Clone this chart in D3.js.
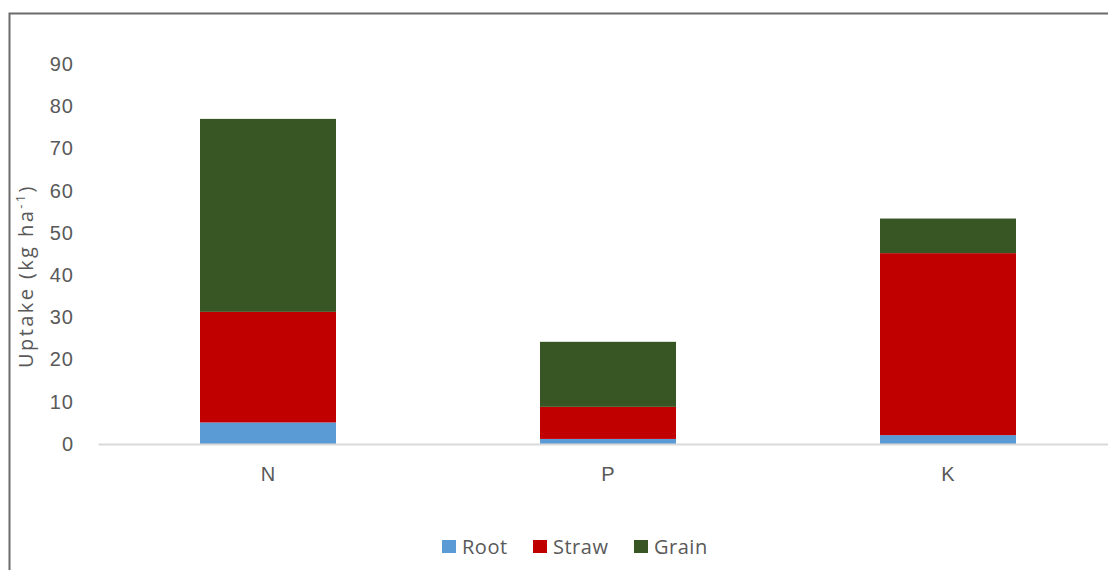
<!DOCTYPE html>
<html>
<head>
<meta charset="utf-8">
<script src="https://cdn.jsdelivr.net/npm/d3@7"></script>
<style>
  body { margin: 0; background: #fff; }
  svg { display: block; font-family: "Open Sans", "Noto Sans", sans-serif; }
</style>
</head>
<body>
<script>
// chart data
const nutrients = ["N", "P", "K"];
const parts = ["Root", "Straw", "Grain"];
const root = [5.1, 1.2, 2.1];
const straw = [26.2, 7.6, 43.1];
const grain = [45.7, 15.4, 8.2];
const yTicks = [0, 10, 20, 30, 40, 50, 60, 70, 80, 90];
const colors = ["#5b9bd5", "#c00000", "#375623"];

const W = 1108, H = 570;
const margin = { top: 64, right: -10, bottom: 126, left: 98 };
const width = W - margin.left - margin.right;
const height = H - margin.top - margin.bottom;

const svg = d3.select("body").append("svg")
  .attr("width", W)
  .attr("height", H);

// outer frame (cropped on the right and bottom)
svg.append("rect")
  .attr("x", 9.5).attr("y", 13.5)
  .attr("width", W + 20).attr("height", H + 20)
  .attr("fill", "none")
  .attr("stroke", "#6b6b6b")
  .attr("stroke-width", 2);

const g = svg.append("g")
  .attr("transform", `translate(${margin.left},${margin.top})`);

const table = nutrients.map((n, i) => ({ nutrient: n, Root: root[i], Straw: straw[i], Grain: grain[i] }));
const stacked = d3.stack().keys(parts)(table);

const x = d3.scaleBand()
  .domain(nutrients)
  .range([0, width])
  .paddingInner(0.6)
  .paddingOuter(0.3);

const y = d3.scaleLinear()
  .domain([0, 90])
  .range([height, 0]);

const color = d3.scaleOrdinal().domain(parts).range(colors);

// y axis labels
const yAxis = g.append("g")
  .call(d3.axisLeft(y).tickValues(yTicks).tickSize(0).tickPadding(24));
yAxis.select(".domain").remove();
yAxis.selectAll("text")
  .attr("fill", "#595959")
  .style("font-size", "20px")
  .style("letter-spacing", "1px");

// bars
g.selectAll("g.layer")
  .data(stacked)
  .join("g")
  .attr("class", "layer")
  .attr("fill", d => color(d.key))
  .selectAll("rect")
  .data(d => d)
  .join("rect")
  .attr("x", d => x(d.data.nutrient))
  .attr("width", x.bandwidth())
  .attr("y", d => y(d[1]))
  .attr("height", d => y(d[0]) - y(d[1]));

// baseline + category labels
const xAxis = g.append("g")
  .attr("transform", `translate(0,${height})`)
  .call(d3.axisBottom(x).tickSize(0).tickPadding(23));
xAxis.select(".domain")
  .attr("stroke", "#d9d9d9")
  .attr("stroke-width", 2);
xAxis.selectAll("text")
  .attr("fill", "#595959")
  .style("font-size", "20px");

// y axis title
svg.append("text")
  .attr("transform", `translate(33,${276}) rotate(-90)`)
  .attr("text-anchor", "middle")
  .attr("fill", "#595959")
  .style("font-size", "20px")
  .style("letter-spacing", "2.4px")
  .text("Uptake (kg ha")
  .append("tspan")
  .attr("dy", -8)
  .style("font-size", "13px")
  .text("-1")
  .clone(true)
  .attr("dy", 8)
  .style("font-size", "20px")
  .text(")");

// legend
const legendX = [442, 533, 634];
const legend = svg.append("g")
  .selectAll("g")
  .data(parts)
  .join("g")
  .attr("transform", (d, i) => `translate(${legendX[i]},${547})`);
legend.append("rect")
  .attr("x", 0).attr("y", -7)
  .attr("width", 14).attr("height", 13)
  .attr("fill", d => color(d));
legend.append("text")
  .attr("x", 20)
  .attr("dy", "0.35em")
  .attr("fill", "#595959")
  .style("font-size", "20px")
  .style("letter-spacing", "0.5px")
  .text(d => d);
</script>
</body>
</html>
